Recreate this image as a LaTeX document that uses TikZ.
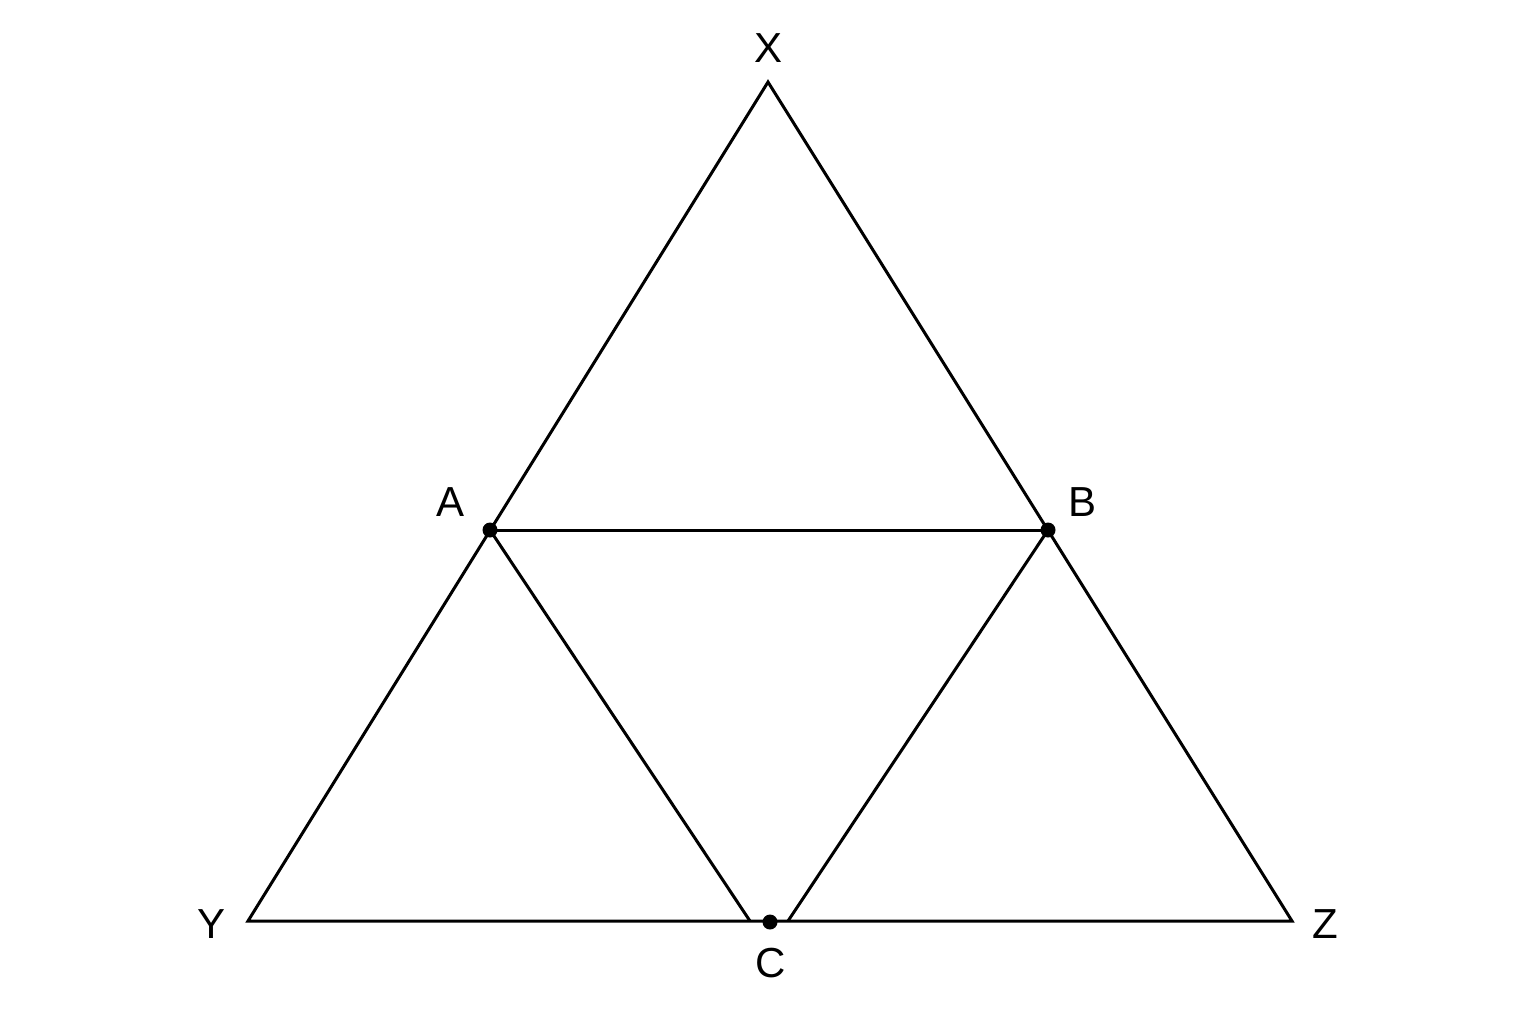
\documentclass[tikz,border=0pt]{standalone}
\usepackage{fontspec}
\setmainfont{Liberation Sans}
\begin{document}
\begin{tikzpicture}[
        x=0.5pt, y=-0.5pt,
        edge/.style={line width=1.5pt, line join=miter},
        vertex/.style={circle, fill=black, inner sep=0pt, minimum size=7.5pt},
        lbl/.style={font=\fontsize{21}{24}\selectfont, inner sep=0pt}
    ]
        \useasboundingbox (0,0) rectangle (1536,1024);

        % Outer triangle
        \coordinate (X) at (768,82);
        \coordinate (Y) at (248,921);
        \coordinate (Z) at (1292,921);
        \coordinate (cl) at (750,921);
        \coordinate (cr) at (788,921);

        \draw[edge] (X) -- (Y) -- (Z) -- cycle;

        % Inner points
        \node[vertex] (A) at (490,530) {};
        \node[vertex] (B) at (1048,530) {};
        \node[vertex] (C) at (770,922) {};

        \draw[edge] (A.center) -- (B.center);
        \draw[edge] (A.center) -- (cl);
        \draw[edge] (B.center) -- (cr);

        % Labels
        \node[lbl] (lX) at (768,48) {X};
        \node[lbl] (lY) at (212,924) {Y};
        \node[lbl] (lZ) at (1325,924) {Z};
        \node[lbl] (lA) at (451,502) {A};
        \node[lbl] (lB) at (1082,502) {B};
        \node[lbl] (lC) at (771,963) {C};
    \end{tikzpicture}
\end{document}
